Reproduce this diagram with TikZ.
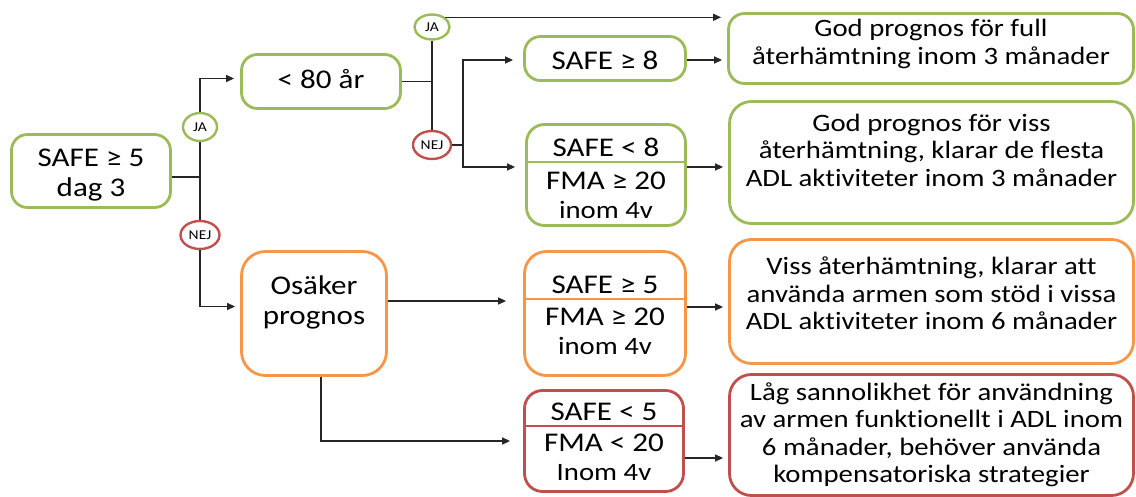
\documentclass[tikz,border=0pt]{standalone}
\usepackage{fontspec}
\setmainfont{Carlito}[FakeStretch=1.15, Ligatures=NoCommon]
\usetikzlibrary{arrows.meta}
\usetikzlibrary{shapes.geometric}
\usetikzlibrary{calc}

\definecolor{grbox}{RGB}{155,187,89}
\definecolor{orbox}{RGB}{247,150,70}
\definecolor{rdbox}{RGB}{192,80,77}

\newcommand{\bigtxt}{\fontsize{27}{31}\selectfont}
\newcommand{\midtxt}{\fontsize{25}{27.5}\selectfont}
\newcommand{\yntxt}{\fontsize{13.5}{14}\selectfont}

\begin{document}
\begin{tikzpicture}[x=1pt,y=-1pt,
  box/.style={draw=#1, line width=2.8pt, rounded corners=16pt, fill=white, inner sep=0pt},
  yn/.style={draw=#1, ellipse, line width=2.4pt, inner sep=0pt, fill=white, font=\yntxt},
  txt/.style={align=center, inner sep=0pt, font=\bigtxt},
  restxt/.style={align=center, inner sep=0pt, font=\midtxt},
  link/.style={line width=1.4pt, black!85},
  arr/.style={link, -{Triangle[length=8pt,width=7pt]}},
  split/.style={draw=#1, line width=1.5pt}
]
\useasboundingbox (0,0) rectangle (1136,497);

% first question
\node[box=grbox, minimum width=159, minimum height=73] (start) at (91,171) {};
\node[txt] (startt) at (91,175) {SAFE ≥ 5\\[-1pt]dag 3};

\node[yn=grbox, minimum width=34, minimum height=28] (JA1) at (200,127) {JA};
\node[yn=rdbox, minimum width=39, minimum height=28] (NEJ1) at (200,235) {NEJ};

% age branch
\node[box=grbox, minimum width=159, minimum height=54] (age) at (321,81.5) {};
\node[txt] (aget) at (321,79) {\textless{} 80 år};

\node[yn=grbox, minimum width=35, minimum height=25] (JA2) at (432,27) {JA};
\node[yn=rdbox, minimum width=38, minimum height=28] (NEJ2) at (432,145) {NEJ};

\node[box=grbox, minimum width=161, minimum height=44] (s8) at (605,58.5) {};
\node[txt] (s8t) at (605,60) {SAFE ≥ 8};

\node[box=grbox, minimum width=159, minimum height=101, rounded corners=18pt] (s8l) at (606,175) {};
\node[txt] (s8lt1) at (606,147) {SAFE \textless{} 8};
\node[txt] (s8lt2) at (606,195) {FMA ≥ 20\\[-2pt]{\midtxt inom 4v}};
\draw[split=grbox] (s8l.west |- 0,162) -- (s8l.east |- 0,162);

% uncertain branch
\node[box=orbox, minimum width=145, minimum height=124, rounded corners=24pt] (osaker) at (314,313.5) {};
\node[txt] (osakert) at (314,302) {Osäker\\[-1pt]prognos};

\node[box=orbox, minimum width=161, minimum height=124, rounded corners=22pt] (s5) at (605,313.5) {};
\node[txt] (s5t1) at (605,285) {SAFE ≥ 5};
\node[txt] (s5t2) at (605,331) {FMA ≥ 20\\[-2pt]{\midtxt inom 4v}};
\draw[split=orbox] (s5.west |- 0,299) -- (s5.east |- 0,299);

\node[box=rdbox, minimum width=159, minimum height=101, rounded corners=18pt] (s5l) at (604,441) {};
\node[txt] (s5lt1) at (604,412) {SAFE \textless{} 5};
\node[txt] (s5lt2) at (604,457.5) {FMA \textless{} 20\\[-2pt]{\midtxt Inom 4v}};
\draw[split=rdbox] (s5l.west |- 0,426) -- (s5l.east |- 0,426);

% outcomes
\node[box=grbox, minimum width=405, minimum height=70] (r1) at (931,48.5) {};
\node[restxt] (r1t) at (931,44) {God prognos för full\\återhämtning inom 3 månader};

\node[box=grbox, minimum width=404, minimum height=122, rounded corners=22pt] (r2) at (931.5,162.5) {};
\node[restxt] (r2t) at (931.5,150) {God prognos för viss\\återhämtning, klarar de flesta\\ADL aktiviteter inom 3 månader};

\node[box=orbox, minimum width=404, minimum height=124, rounded corners=22pt] (r3) at (931.5,301.5) {};
\node[restxt] (r3t) at (931.5,293.5) {Viss återhämtning, klarar att\\använda armen som stöd i vissa\\ADL aktiviteter inom 6 månader};

\node[box=rdbox, minimum width=404, minimum height=121, rounded corners=22pt] (r4) at (931.5,435) {};
\node[restxt] (r4t) at (931.5,435) {Låg sannolikhet för användning\\av armen funktionellt i ADL inom\\6 månader, behöver använda\\kompensatoriska strategier};

% connectors
\coordinate (j0) at (200,177);
\coordinate (j2) at (463,145);
\coordinate (ja2r) at (JA2.north east);
\coordinate (s8o) at ([yshift=-1.5pt]s8.east);
\coordinate (s8lo) at ([yshift=8pt]s8l.east);
\coordinate (oso) at ([yshift=12.5pt]osaker.east);
\coordinate (s5o) at ([yshift=6.5pt]s5.east);
\coordinate (s5lo) at ([yshift=-17pt]s5l.east);

\draw[link] (start.east |- j0) -- (j0);
\draw[link] (JA1.south) -- (NEJ1.north);
\draw[arr, shorten >=6pt] (JA1.north) |- ([yshift=3pt]age.west);
\draw[arr, shorten >=5pt] (NEJ1.south) |- ([yshift=7pt]osaker.west);

\draw[link] (age.east) -- (age.east -| JA2.south);
\draw[link] (JA2.south) -- (NEJ2.north);
\draw[arr, shorten >=6pt] (ja2r) -- (ja2r -| r1.west);
\draw[link] (NEJ2.east) -- (j2);
\draw[arr, shorten >=10pt] (j2) |- ([yshift=-1.5pt]s8.west);
\draw[arr, shorten >=10pt] (j2) |- ([yshift=8pt]s8l.west);

\draw[arr, shorten >=5pt] (s8o) -- (s8o -| r1.west);
\draw[arr, shorten >=5pt] (s8lo) -- (s8lo -| r2.west);
\draw[arr, shorten >=17pt] (oso) -- (oso -| s5.west);
\draw[arr, shorten >=13pt] ([xshift=7pt]osaker.south) |- (s5l.west);
\draw[arr, shorten >=5pt] (s5o) -- (s5o -| r3.west);
\draw[arr, shorten >=5pt] (s5lo) -- (s5lo -| r4.west);
\end{tikzpicture}
\end{document}
